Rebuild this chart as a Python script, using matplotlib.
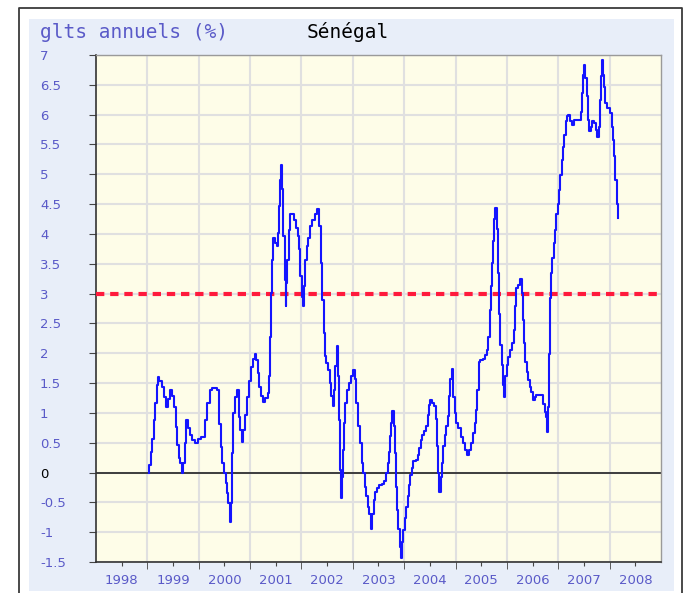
import matplotlib
matplotlib.use('Agg')
import matplotlib.pyplot as plt
from matplotlib.lines import Line2D
from matplotlib.patches import Rectangle
import numpy as np

# annual growth (%), Senegal, sampled along the series
dates = [
    1999.03, 1999.05, 1999.08, 1999.11, 1999.14, 1999.17, 1999.19, 1999.21, 1999.26, 1999.30,
    1999.34, 1999.37, 1999.42, 1999.47, 1999.50, 1999.54, 1999.57, 1999.60, 1999.63, 1999.66,
    1999.69, 1999.71, 1999.74, 1999.77, 1999.81, 1999.85, 1999.90, 1999.96,
    2000.01, 2000.06, 2000.11, 2000.15, 2000.19, 2000.23, 2000.28, 2000.33, 2000.38, 2000.41,
    2000.44, 2000.47, 2000.51, 2000.54, 2000.56, 2000.59, 2000.61, 2000.64, 2000.66, 2000.69,
    2000.73, 2000.77, 2000.79, 2000.82, 2000.85, 2000.88, 2000.92, 2000.96,
    2001.00, 2001.04, 2001.08, 2001.11, 2001.13, 2001.16, 2001.19, 2001.23, 2001.27, 2001.32,
    2001.36, 2001.38, 2001.40, 2001.42, 2001.44, 2001.47, 2001.51, 2001.53, 2001.55, 2001.58,
    2001.60, 2001.62, 2001.64, 2001.66, 2001.68, 2001.70, 2001.71, 2001.74, 2001.77, 2001.79,
    2001.84, 2001.88, 2001.92, 2001.94, 2001.97, 2001.99,
    2002.02, 2002.04, 2002.06, 2002.08, 2002.12, 2002.15, 2002.19, 2002.23, 2002.28, 2002.33,
    2002.36, 2002.39, 2002.42, 2002.44, 2002.47, 2002.50, 2002.53, 2002.57, 2002.59, 2002.62,
    2002.64, 2002.67, 2002.70, 2002.72, 2002.74, 2002.76, 2002.78, 2002.80, 2002.82, 2002.84,
    2002.86, 2002.90, 2002.94, 2002.98,
    2003.03, 2003.06, 2003.08, 2003.12, 2003.15, 2003.19, 2003.22, 2003.25, 2003.28, 2003.30,
    2003.33, 2003.36, 2003.39, 2003.42, 2003.45, 2003.49, 2003.54, 2003.59, 2003.63, 2003.67,
    2003.69, 2003.72, 2003.74, 2003.76, 2003.78, 2003.81, 2003.83, 2003.85, 2003.87, 2003.90,
    2003.92, 2003.95, 2003.97,
    2004.00, 2004.03, 2004.05, 2004.08, 2004.10, 2004.13, 2004.16, 2004.20, 2004.25, 2004.28,
    2004.31, 2004.34, 2004.37, 2004.41, 2004.44, 2004.47, 2004.49, 2004.52, 2004.57, 2004.61,
    2004.63, 2004.65, 2004.67, 2004.70, 2004.72, 2004.75, 2004.77, 2004.80, 2004.83, 2004.86,
    2004.89, 2004.91, 2004.94, 2004.96,
    2005.00, 2005.03, 2005.08, 2005.12, 2005.16, 2005.21, 2005.25, 2005.28, 2005.32, 2005.36,
    2005.39, 2005.41, 2005.44, 2005.46, 2005.51, 2005.55, 2005.59, 2005.63, 2005.65, 2005.68,
    2005.70, 2005.72, 2005.74, 2005.76, 2005.79, 2005.81, 2005.83, 2005.86, 2005.88, 2005.91,
    2005.94, 2005.96, 2005.98,
    2006.01, 2006.05, 2006.08, 2006.12, 2006.14, 2006.17, 2006.19, 2006.23, 2006.27, 2006.30,
    2006.32, 2006.35, 2006.37, 2006.40, 2006.43, 2006.45, 2006.48, 2006.52, 2006.56, 2006.59,
    2006.65, 2006.70, 2006.72, 2006.75, 2006.77, 2006.79, 2006.81, 2006.83, 2006.85, 2006.87,
    2006.90, 2006.92, 2006.95, 2006.97,
    2007.00, 2007.03, 2007.05, 2007.08, 2007.10, 2007.13, 2007.16, 2007.18, 2007.21, 2007.25,
    2007.28, 2007.32, 2007.37, 2007.43, 2007.45, 2007.48, 2007.50, 2007.52, 2007.54, 2007.56,
    2007.59, 2007.61, 2007.65, 2007.68, 2007.71, 2007.74, 2007.77, 2007.80, 2007.82, 2007.84,
    2007.86, 2007.88, 2007.90, 2007.93, 2007.96, 2007.99,
    2008.03, 2008.05, 2008.08, 2008.10, 2008.12, 2008.15, 2008.17,
]
glts = [
    0.00, 0.13, 0.35, 0.57, 0.88, 1.16, 1.46, 1.60, 1.54, 1.43,
    1.27, 1.10, 1.24, 1.38, 1.29, 1.10, 0.77, 0.46, 0.24, 0.16,
    0.00, 0.16, 0.49, 0.88, 0.74, 0.63, 0.54, 0.49,
    0.57, 0.59, 0.60, 0.88, 1.16, 1.38, 1.41, 1.41, 1.39, 0.82,
    0.43, 0.16, -0.01, -0.18, -0.34, -0.51, -0.83, -0.51, 0.32, 0.99,
    1.27, 1.39, 0.93, 0.71, 0.52, 0.71, 0.96, 1.27,
    1.54, 1.77, 1.91, 1.99, 1.89, 1.67, 1.44, 1.28, 1.19, 1.25,
    1.33, 1.61, 2.28, 3.01, 3.57, 3.93, 3.85, 3.79, 4.02, 4.47,
    4.91, 5.15, 4.75, 3.96, 3.23, 2.79, 3.18, 3.57, 4.07, 4.33,
    4.33, 4.24, 4.10, 3.96, 3.74, 3.29,
    2.95, 2.79, 3.12, 3.57, 3.79, 3.93, 4.13, 4.24, 4.33, 4.42,
    4.13, 3.51, 2.90, 2.34, 1.95, 1.84, 1.72, 1.50, 1.28, 1.11,
    1.39, 1.78, 2.12, 1.61, 0.88, 0.04, -0.43, -0.07, 0.38, 0.83,
    1.16, 1.39, 1.50, 1.61,
    1.72, 1.56, 1.17, 0.78, 0.49, 0.16, -0.01, -0.24, -0.40, -0.57,
    -0.69, -0.94, -0.69, -0.46, -0.32, -0.26, -0.21, -0.19, -0.15, -0.01,
    0.16, 0.35, 0.61, 0.83, 1.03, 0.78, 0.33, -0.24, -0.63, -0.94,
    -1.25, -1.43, -1.16,
    -0.97, -0.77, -0.57, -0.40, -0.21, -0.04, 0.07, 0.19, 0.21, 0.30,
    0.41, 0.55, 0.63, 0.69, 0.78, 0.97, 1.14, 1.22, 1.17, 1.11,
    0.89, 0.44, -0.01, -0.32, -0.07, 0.16, 0.44, 0.63, 0.78, 0.94,
    1.28, 1.56, 1.73, 1.27,
    0.99, 0.83, 0.74, 0.60, 0.49, 0.38, 0.30, 0.38, 0.49, 0.66,
    0.83, 1.05, 1.38, 1.86, 1.89, 1.91, 1.97, 2.05, 2.28, 2.72,
    3.12, 3.52, 3.88, 4.25, 4.44, 4.08, 3.35, 2.65, 2.14, 1.80,
    1.47, 1.27, 1.61,
    1.80, 1.94, 2.06, 2.17, 2.39, 2.79, 3.10, 3.15, 3.24, 3.01,
    2.56, 2.17, 1.86, 1.69, 1.55, 1.44, 1.35, 1.21, 1.27, 1.30,
    1.30, 1.30, 1.15, 1.02, 0.93, 0.68, 1.10, 1.99, 2.92, 3.34,
    3.59, 3.84, 4.06, 4.34,
    4.51, 4.74, 4.99, 5.24, 5.46, 5.66, 5.89, 5.97, 6.00, 5.89,
    5.83, 5.91, 5.91, 5.91, 6.05, 6.36, 6.67, 6.84, 6.61, 6.31,
    5.91, 5.72, 5.80, 5.89, 5.86, 5.75, 5.63, 5.80, 6.25, 6.64,
    6.92, 6.67, 6.47, 6.19, 6.11, 6.11,
    6.03, 5.80, 5.58, 5.30, 4.90, 4.51, 4.26,
]

year_labels = ['1998', '1999', '2000', '2001', '2002', '2003',
               '2004', '2005', '2006', '2007', '2008']
y_ticks = [-1.5, -1, -0.5, 0, 0.5, 1, 1.5, 2, 2.5, 3, 3.5, 4, 4.5, 5, 5.5, 6, 6.5, 7]
target = 3

W, H = 690, 593


def fx(px):
    return px / W


def fy(py):
    return 1 - py / H


fig = plt.figure(figsize=(W / 100, H / 100), dpi=100)
fig.patch.set_facecolor('white')

# light panel + dark frame around the chart
fig.patches.append(Rectangle((fx(28.5), fy(591)), fx(674) - fx(28.5), fy(18.5) - fy(591),
                             transform=fig.transFigure, facecolor='#e8eef9',
                             edgecolor='none', zorder=-10))
fig.lines.append(Line2D([fx(19), fx(19), fx(682), fx(682)], [0, fy(7.5), fy(7.5), 0],
                        transform=fig.transFigure, color='#3a3a3a', lw=1.3, zorder=-10))

ax = fig.add_axes([fx(96), fy(562), fx(661) - fx(96), fy(55) - fy(562)])
ax.set_zorder(1)
ax.set_facecolor('#fefde8')
ax.set_xlim(1998, 2009)
ax.set_ylim(-1.5, 7)
ax.set_axisbelow(True)

first = int(year_labels[0])
mids = [first + i + 0.5 for i in range(len(year_labels))]
bounds = [first + i for i in range(1, len(year_labels))]
ax.set_xticks(mids, labels=year_labels)
ax.set_xticks(bounds, minor=True)
ax.grid(which='minor', axis='x', color='#e0e0e0', lw=1.5)

ylabels = ['%g' % v for v in y_ticks]
ax.set_yticks(y_ticks)
ax.set_yticklabels(ylabels, ha='left')
ax.grid(which='major', axis='y', color='#e0e0e0', lw=1.5)

lab_col = '#5a5ac8'
ax.tick_params(axis='x', which='major', length=3, color='#444444', pad=6,
               labelsize=9.5, labelcolor=lab_col)
ax.tick_params(axis='x', which='minor', length=5, color='#444444')
ax.tick_params(axis='y', which='major', length=5, color='#444444', pad=35.3,
               labelsize=9.5, labelcolor=lab_col)
ax.get_yticklabels()[y_ticks.index(0)].set_color('black')

for side in ['left', 'bottom']:
    ax.spines[side].set_color('#333333')
    ax.spines[side].set_linewidth(1.2)
for side in ['top', 'right']:
    ax.spines[side].set_color('#9a9a9a')
    ax.spines[side].set_linewidth(1.0)

ax.axhline(0, color='#222222', lw=1.2, zorder=2)
ax.axhline(target, color='#ff1a3c', lw=3, ls=(0, (2, 1.4)), zorder=3)
ax.plot(dates, glts, color='#1414ff', lw=1.5, drawstyle='steps-mid', zorder=4)

fig.text(fx(40), fy(32), 'glts annuels (%)', family='DejaVu Sans Mono',
         fontsize=14, color=lab_col, va='center')
fig.text(fx(307), fy(32), 'Sénégal', family='DejaVu Sans Mono',
         fontsize=14, color='black', va='center')

fig.savefig('out.png', dpi=100)
